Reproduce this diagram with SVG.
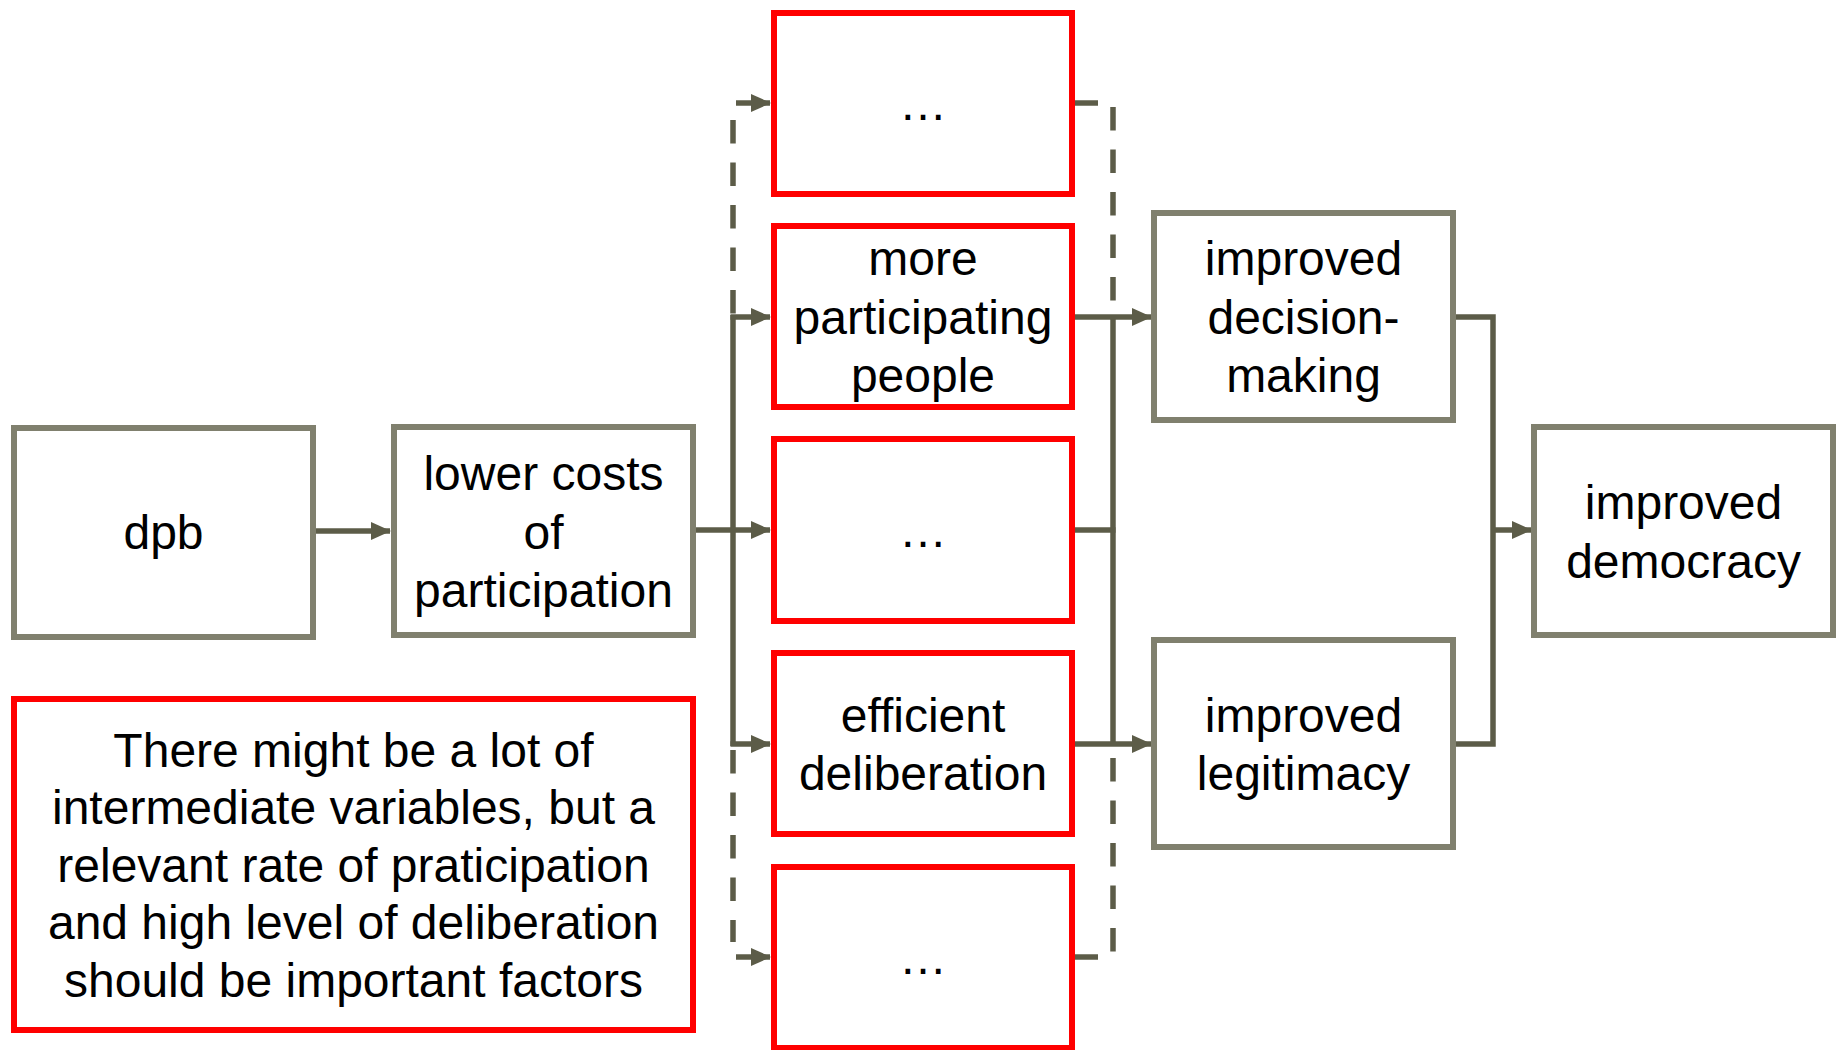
<svg xmlns="http://www.w3.org/2000/svg" width="1839" height="1050" viewBox="0 0 1839 1050">
<style>
.g{fill:#fff;stroke:#80806e;stroke-width:6}
.r{fill:#fff;stroke:#ff0000;stroke-width:6}
.t{font-family:"Liberation Sans",Arial,sans-serif;font-size:48px;fill:#000;text-anchor:middle}
.c{fill:none;stroke:#5c5c48;stroke-width:5.5}
.d{fill:none;stroke:#5c5c48;stroke-width:5.5;stroke-dasharray:23.5 19}
</style>
<defs>
<marker id="ah" markerUnits="userSpaceOnUse" markerWidth="20" markerHeight="19" refX="19" refY="9" orient="auto" viewBox="0 0 20 18">
<path d="M0,0 L20,9 L0,18 z" fill="#5c5c48"/>
</marker>
</defs>
<rect width="1839" height="1050" fill="#fff"/>
<g id="connectors">
<line class="c" x1="315" y1="531" x2="390" y2="531" marker-end="url(#ah)"/>
<line class="c" x1="695" y1="530" x2="770" y2="530" marker-end="url(#ah)"/>
<line class="c" x1="733" y1="315" x2="733" y2="746"/>
<line class="d" x1="733" y1="120" x2="733" y2="317"/>
<line class="d" x1="733" y1="750" x2="733" y2="942"/>
<line class="c" x1="736" y1="103" x2="770" y2="103" marker-end="url(#ah)"/>
<line class="c" x1="730.5" y1="317" x2="770" y2="317" marker-end="url(#ah)"/>
<line class="c" x1="730.5" y1="744" x2="770" y2="744" marker-end="url(#ah)"/>
<line class="c" x1="736" y1="957" x2="770" y2="957" marker-end="url(#ah)"/>
<line class="c" x1="1074" y1="103" x2="1098" y2="103"/>
<line class="c" x1="1074" y1="957" x2="1098" y2="957"/>
<line class="d" x1="1113" y1="107" x2="1113" y2="317"/>
<line class="d" x1="1113" y1="758" x2="1113" y2="953"/>
<line class="c" x1="1113" y1="315" x2="1113" y2="746"/>
<line class="c" x1="1074" y1="530" x2="1115.5" y2="530"/>
<line class="c" x1="1074" y1="317" x2="1151" y2="317" marker-end="url(#ah)"/>
<line class="c" x1="1074" y1="744" x2="1151" y2="744" marker-end="url(#ah)"/>
<path class="c" d="M1455,317 H1493 V744 H1455"/>
<line class="c" x1="1493" y1="530" x2="1531" y2="530" marker-end="url(#ah)"/>
</g>
<g id="dpb">
<rect class="g" x="14" y="428" width="299" height="209"/>
<text class="t" x="163.5" y="549">dpb</text>
</g>
<g id="lower-costs">
<rect class="g" x="394" y="427" width="299" height="208"/>
<text class="t" x="543.5" y="490">lower costs</text>
<text class="t" x="543.5" y="548.5">of</text>
<text class="t" x="543.5" y="607">participation</text>
</g>
<g id="note">
<rect class="r" x="14" y="699" width="679" height="331"/>
<text class="t" x="353.5" y="766.5">There might be a lot of</text>
<text class="t" x="353.5" y="824">intermediate variables, but a</text>
<text class="t" x="353.5" y="881.5">relevant rate of praticipation</text>
<text class="t" x="353.5" y="939">and high level of deliberation</text>
<text class="t" x="353.5" y="996.5">should be important factors</text>
</g>
<g id="box-1">
<rect class="r" x="774" y="13" width="298" height="181"/>
<text class="t" x="923" y="120">…</text>
</g>
<g id="more-participating">
<rect class="r" x="774" y="226" width="298" height="181"/>
<text class="t" x="923" y="275">more</text>
<text class="t" x="923" y="333.5">participating</text>
<text class="t" x="923" y="392">people</text>
</g>
<g id="box-3">
<rect class="r" x="774" y="439" width="298" height="182"/>
<text class="t" x="923" y="547">…</text>
</g>
<g id="efficient-deliberation">
<rect class="r" x="774" y="653" width="298" height="181"/>
<text class="t" x="923" y="731.5">efficient</text>
<text class="t" x="923" y="790">deliberation</text>
</g>
<g id="box-5">
<rect class="r" x="774" y="867" width="298" height="181"/>
<text class="t" x="923" y="974">…</text>
</g>
<g id="decision-making">
<rect class="g" x="1154" y="213" width="299" height="207"/>
<text class="t" x="1303.5" y="275">improved</text>
<text class="t" x="1303.5" y="333.5">decision-</text>
<text class="t" x="1303.5" y="392">making</text>
</g>
<g id="legitimacy">
<rect class="g" x="1154" y="640" width="299" height="207"/>
<text class="t" x="1303.5" y="731.5">improved</text>
<text class="t" x="1303.5" y="790">legitimacy</text>
</g>
<g id="democracy">
<rect class="g" x="1534" y="427" width="299" height="208"/>
<text class="t" x="1683.5" y="519">improved</text>
<text class="t" x="1683.5" y="577.5">democracy</text>
</g>
</svg>
